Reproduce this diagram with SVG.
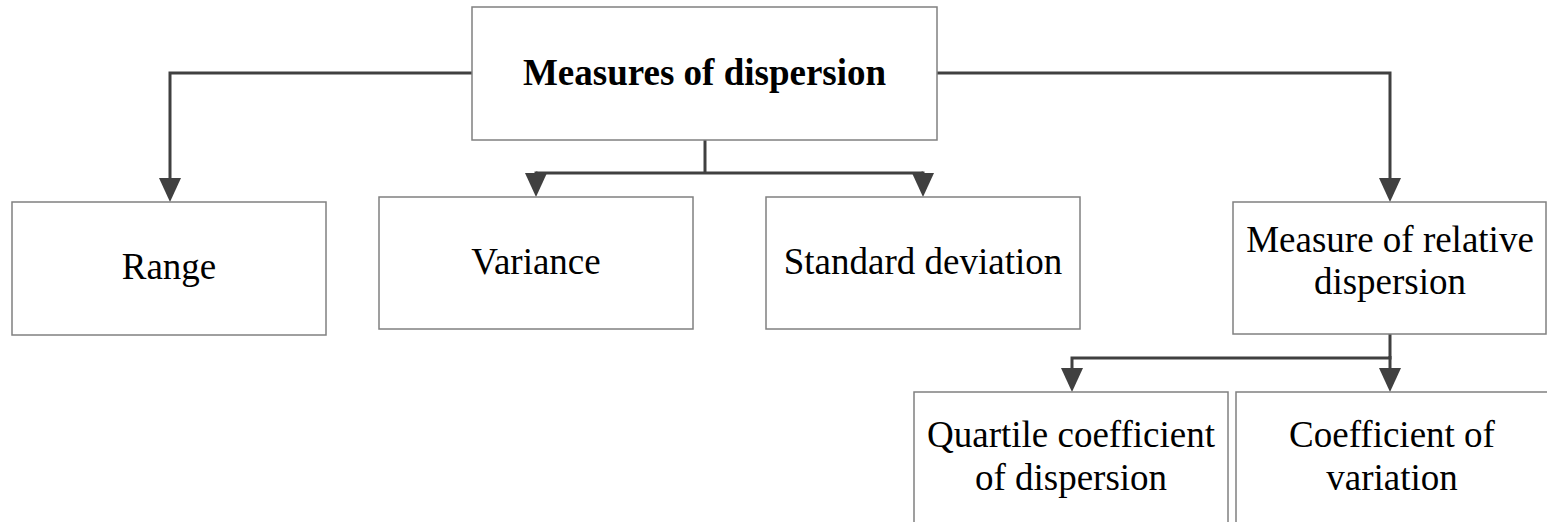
<svg xmlns="http://www.w3.org/2000/svg" width="1547" height="522" viewBox="0 0 1547 522">
<style>
.box{fill:#fff;stroke:#808080;stroke-width:1.5}
.t{font-family:'Liberation Serif','DejaVu Serif',serif;font-size:37px;fill:#000;text-anchor:middle}
.b{font-weight:bold}
.c{fill:none;stroke:#404040;stroke-width:3}
</style>
<defs>
<marker id="ah" markerUnits="userSpaceOnUse" markerWidth="24" markerHeight="22" refX="0" refY="11" orient="auto" viewBox="0 0 24 22">
<path d="M0,0 L24,11 L0,22 z" fill="#404040"/>
</marker>
</defs>
<rect width="1547" height="522" fill="#fff"/>
<g id="connectors">
<path class="c" d="M472,73 H170 V178" marker-end="url(#ah)"/>
<path class="c" d="M937,73 H1390 V178" marker-end="url(#ah)"/>
<path class="c" d="M705,140 V173"/>
<path class="c" d="M536,173 H923"/>
<path class="c" d="M536,171.5 V173" marker-end="url(#ah)"/>
<path class="c" d="M923,171.5 V173" marker-end="url(#ah)"/>
<path class="c" d="M1390,334 V358 H1072 V368" marker-end="url(#ah)"/>
<path class="c" d="M1390,356 V368" marker-end="url(#ah)"/>
</g>
<g id="measures">
<rect class="box" x="472" y="7" width="465" height="133"/>
<text class="t b" x="704.5" y="85" font-family="Liberation Serif, DejaVu Serif, serif">Measures of dispersion</text>
</g>
<g id="range">
<rect class="box" x="12" y="202" width="314" height="133"/>
<text class="t" x="169" y="279">Range</text>
</g>
<g id="variance">
<rect class="box" x="379" y="197" width="314" height="132"/>
<text class="t" x="536" y="274">Variance</text>
</g>
<g id="sd">
<rect class="box" x="766" y="197" width="314" height="132"/>
<text class="t" x="923" y="274">Standard deviation</text>
</g>
<g id="relative">
<rect class="box" x="1233" y="202" width="313" height="132"/>
<text class="t" x="1390" y="252">Measure of relative</text>
<text class="t" x="1390" y="294">dispersion</text>
</g>
<g id="quartile">
<rect class="box" x="914" y="392" width="314" height="140"/>
<text class="t" x="1071" y="447">Quartile coefficient</text>
<text class="t" x="1071" y="490">of dispersion</text>
</g>
<g id="cov">
<rect class="box" x="1236" y="392" width="320" height="140"/>
<text class="t" x="1392" y="447">Coefficient of</text>
<text class="t" x="1392" y="490">variation</text>
</g>
</svg>
